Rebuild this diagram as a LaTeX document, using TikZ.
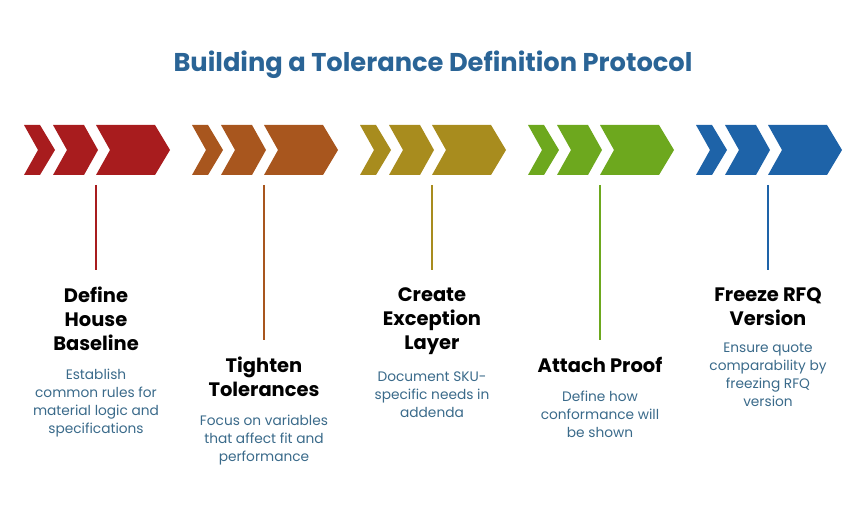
\documentclass[tikz,border=0pt]{standalone}
\usepackage{fontspec}
\setmainfont{Poppins}
\usepackage{tikz}
\usetikzlibrary{positioning}
\definecolor{stepA}{HTML}{A81C1E}
\definecolor{stepB}{HTML}{A8561E}
\definecolor{stepC}{HTML}{A88C1E}
\definecolor{stepD}{HTML}{6DA81E}
\definecolor{stepE}{HTML}{1E63A8}
\definecolor{titleblue}{HTML}{2A6496}
\definecolor{desctext}{HTML}{3A6A8A}
\tikzset{
  head/.style={align=center, font=\bfseries\fontsize{14.6}{18}\selectfont, text=black, inner sep=0pt},
  desc/.style={align=center, font=\fontsize{10.3}{13.5}\selectfont, text=desctext, inner sep=0pt},
  stem/.style={line width=1.3pt},
}
\begin{document}
\begin{tikzpicture}[x=0.75pt,y=-0.75pt]
\useasboundingbox (0,0) rectangle (866,516);
\node[font=\bfseries\fontsize{19.3}{22}\selectfont, text=titleblue] (title) at (433,65) {Building a Tolerance Definition Protocol};
\foreach \i/\col/\lowy/\head/\desc in {
  0/stepA/270/{Define\\House\\Baseline}/{Establish\\common rules for\\material logic and\\specifications},
  1/stepB/340/{Tighten\\Tolerances}/{Focus on variables\\that affect fit and\\performance},
  2/stepC/270/{Create\\Exception\\Layer}/{Document SKU-\\specific needs in\\addenda},
  3/stepD/340/{Attach Proof}/{Define how\\conformance will\\be shown},
  4/stepE/270/{Freeze RFQ\\Version}/{Ensure quote\\comparability by\\freezing RFQ\\version}} {
  \pgfmathsetmacro{\gx}{24+168*\i}
  \begin{scope}[shift={(\gx,0)}]
    \fill[\col] (0,125) -- (16,125) -- (31,150) -- (16,175) -- (0,175) -- (14,150) -- cycle;
    \fill[\col] (29,125) -- (60,125) -- (74,150) -- (60,175) -- (29,175) -- (43,150) -- cycle;
    \fill[\col] (72,125) -- (131,125) -- (146,150) -- (131,175) -- (72,175) -- (86,150) -- cycle;
    \coordinate (top\i) at (72,185);
    \coordinate (bot\i) at (72,\lowy);
    \node[head, anchor=north] (head\i) at (72,\lowy+17) {\head};
  \end{scope}
  \draw[stem, \col] (top\i) -- (bot\i);
  \node[desc, below=13pt of head\i] (desc\i) {\desc};
}
\end{tikzpicture}
\end{document}
